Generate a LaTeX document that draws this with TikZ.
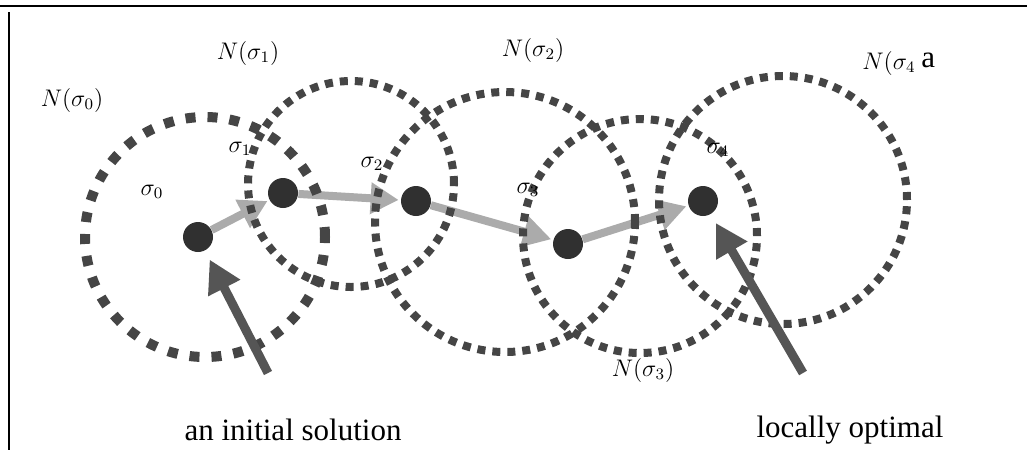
\documentclass[tikz,border=0pt]{standalone}
\usepackage{fontspec}
\setmainfont{Liberation Serif}
\usetikzlibrary{arrows.meta}
\definecolor{dotc}{HTML}{454545}
\definecolor{solc}{HTML}{303030}
\definecolor{lightarr}{HTML}{ABABAB}
\definecolor{darkarr}{HTML}{555555}
\pgfdeclarelayer{back}
\pgfdeclarelayer{mid}
\pgfsetlayers{back,mid,main}
\begin{document}
\begin{tikzpicture}[x=0.5pt,y=-0.5pt,
  nbig/.style={draw=dotc,line width=5pt,dash pattern=on 5pt off 6pt},
  nsmall/.style={draw=dotc,line width=4pt,dash pattern=on 4pt off 3.5pt},
  sol/.style={circle,fill=solc,inner sep=0pt,minimum size=15pt},
  movearr/.style={draw=lightarr,line width=4pt,-{Triangle[length=14pt,width=15pt]},shorten >=1pt},
  pointarr/.style={draw=darkarr,line width=4.5pt,-{Triangle[length=16pt,width=17pt]},shorten >=5pt},
  lab/.style={font=\fontsize{12}{14}\selectfont,inner sep=0pt},
  capt/.style={font=\fontsize{15.5}{18}\selectfont,inner sep=0pt},
  frame/.style={line width=1.2pt}]
\useasboundingbox (0,0) rectangle (1027,468);
\draw[frame] (0,6) -- (1027,6);
\draw[frame] (9,12) -- (9,450);

% solutions
\node[sol] (s0) at (198,237) {};
\node[sol] (s1) at (283,193) {};
\node[sol] (s2) at (416,201) {};
\node[sol] (s3) at (568,244) {};
\node[sol] (s4) at (703,201) {};

% moves
\begin{pgfonlayer}{back}
\draw[movearr] (s0) -- (s1);
\draw[movearr] (s1) -- (s2);
\draw[movearr] (s2) -- (s3);
\draw[movearr] (s3) -- (s4);
\end{pgfonlayer}

% neighbourhoods
\begin{pgfonlayer}{mid}
\draw[nbig] (205,237) circle[radius=60pt];
\draw[nsmall] (351,184) circle[radius=51.5pt];
\draw[nsmall] (505,222) circle[radius=65pt];
\draw[nsmall] (640,236) circle[radius=58.5pt];
\draw[nsmall] (783,200) circle[radius=62pt];
\end{pgfonlayer}

% pointers
\coordinate (t0) at (268,373);
\coordinate (t4) at (803,373);
\draw[pointarr] (t0) -- (s0);
\draw[pointarr] (t4) -- (s4);

% labels
\node[lab] (n0) at (72,100) {$N(\sigma_0)$};
\node[lab] (n1) at (248,53) {$N(\sigma_1)$};
\node[lab] (n2) at (533,50) {$N(\sigma_2)$};
\node[lab] (n3) at (643,370) {$N(\sigma_3)$};
\node[lab,anchor=west] (n4) at (862,63) {$N(\sigma_4$};
\node[capt,anchor=west] (na) at (921,60) {a};
\node[lab] (l0) at (152,192) {$\sigma_0$};
\node[lab] (l1) at (240,149) {$\sigma_1$};
\node[lab] (l2) at (372,164) {$\sigma_2$};
\node[lab] (l3) at (528,190) {$\sigma_3$};
\node[lab] (l4) at (718,150) {$\sigma_4$};

\node[capt] (c0) at (293,430) {an initial solution};
\node[capt] (c4) at (850,430) {locally optimal};
\end{tikzpicture}
\end{document}
